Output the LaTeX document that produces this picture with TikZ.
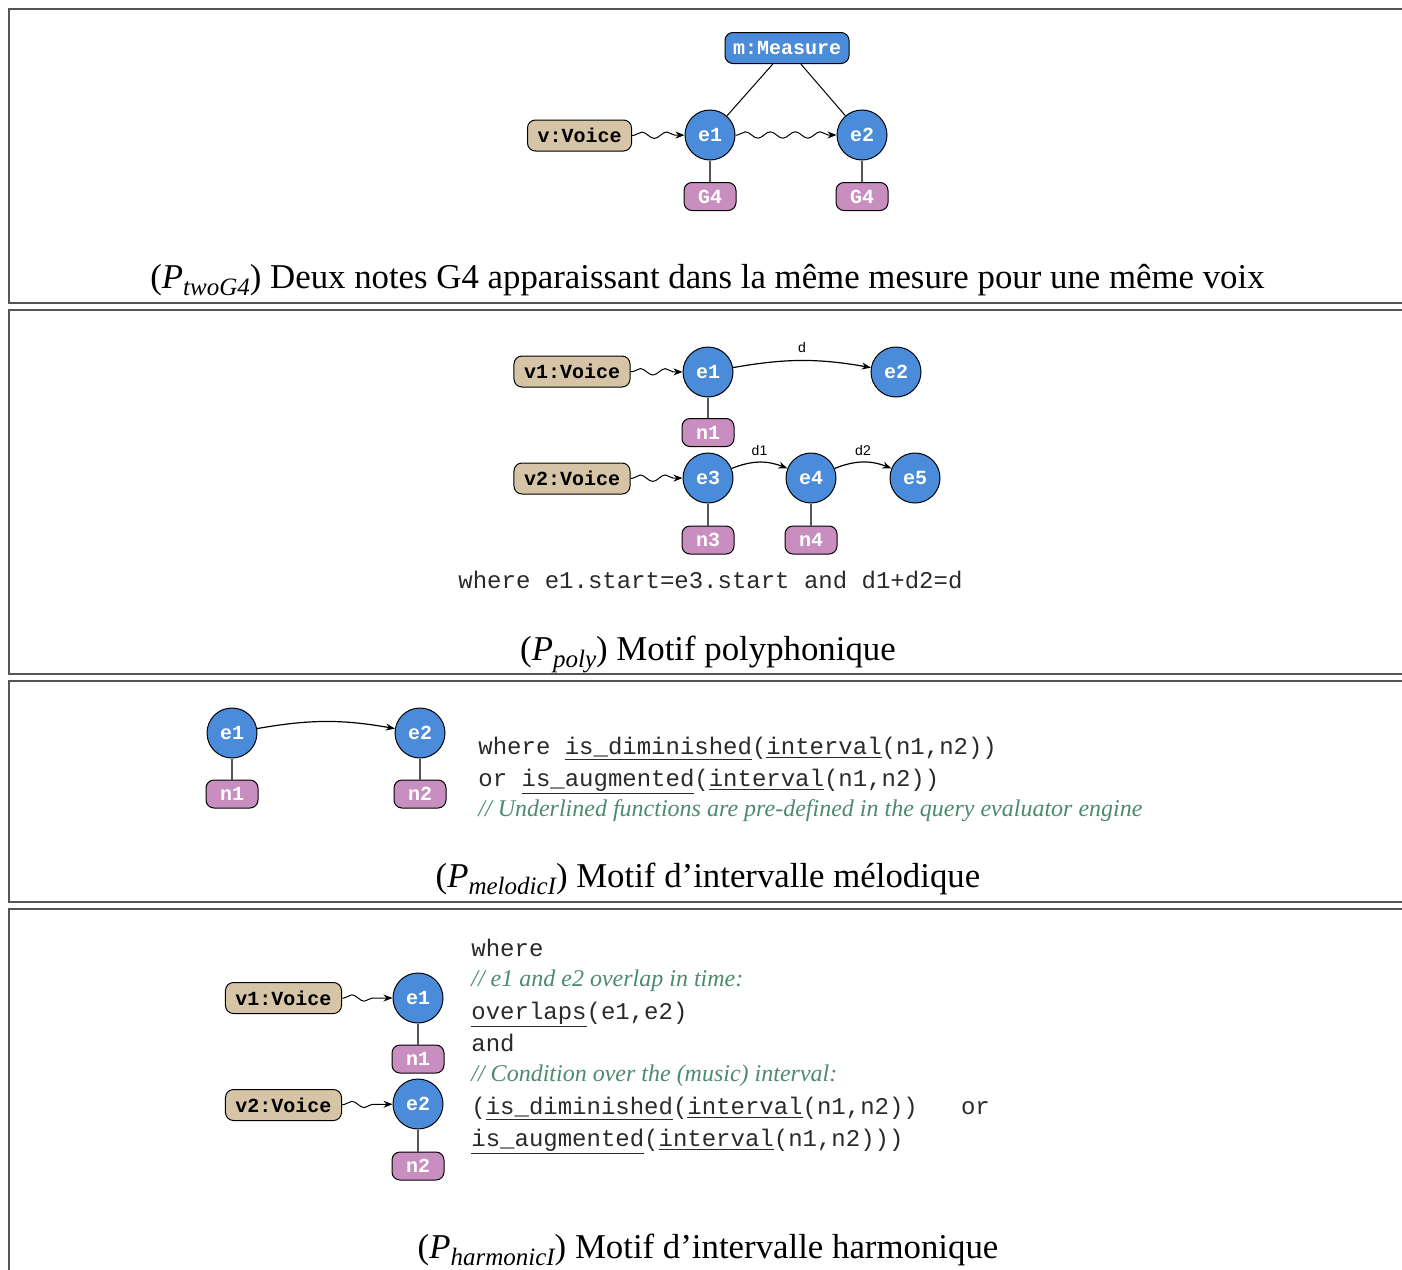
\documentclass[tikz,border=0pt]{standalone}
\usepackage{fontspec}
\setmainfont{Liberation Serif}
\newfontfamily\monofont{Liberation Mono}
\newfontfamily\labfont{Liberation Sans}
\usetikzlibrary{arrows.meta,decorations.pathmorphing}

\definecolor{evblue}{HTML}{4A8BDA}
\definecolor{voicetan}{HTML}{D6C4A6}
\definecolor{notepink}{HTML}{C98EC0}
\definecolor{commentgreen}{HTML}{4C8A70}
\definecolor{framegray}{HTML}{555555}
\definecolor{codegray}{HTML}{2A2A2A}

% pattern name in captions: (P_{sub})
\newcommand\Pname[1]{(\textit{P}\raisebox{-0.45ex}{\fontsize{12.5pt}{14pt}\selectfont\itshape #1})}
\newcommand\ul[1]{\underline{#1}}

\tikzset{
  nodefont/.style={font=\monofont\bfseries\fontsize{10pt}{12pt}\selectfont},
  ev/.style={circle, draw=black, line width=0.5pt, fill=evblue, minimum size=25pt,
    inner sep=0pt, text=white, nodefont},
  voice/.style={rounded corners=4pt, draw=black, line width=0.5pt, fill=voicetan,
    minimum height=15.5pt, inner xsep=5pt, inner ysep=2pt, text=black, nodefont},
  measure/.style={rounded corners=4pt, draw=black, line width=0.5pt, fill=evblue,
    minimum height=15.5pt, inner xsep=4pt, inner ysep=2pt, text=white, nodefont},
  notebox/.style={rounded corners=4pt, draw=black, line width=0.5pt, fill=notepink,
    minimum height=14pt, minimum width=26pt, inner sep=2pt, text=white, nodefont},
  wavy/.style={decorate, decoration={snake, amplitude=1.6pt, segment length=12.5pt,
    pre length=1pt, post length=4pt}, line width=0.5pt, -{Stealth[length=4.5pt,width=3.5pt]}},
  stem/.style={draw=framegray, line width=0.8pt},
  rel/.style={draw=black, line width=0.5pt},
  flow/.style={line width=0.6pt, -{Stealth[length=4.5pt,width=3.5pt]}},
  lab/.style={font=\labfont\fontsize{7pt}{8pt}\selectfont, inner sep=0pt},
  code/.style={anchor=base west, inner sep=0pt, text=codegray,
    font=\monofont\fontsize{12pt}{14pt}\selectfont},
  comment/.style={anchor=base west, inner sep=0pt, text=commentgreen,
    font=\itshape\fontsize{12pt}{14pt}\selectfont},
  caption/.style={anchor=base, inner sep=0pt, font=\fontsize{17.4pt}{20pt}\selectfont},
  frame/.style={draw=framegray, line width=1pt}
}

\begin{document}
\begin{tikzpicture}[x=0.5pt,y=-0.5pt]
\useasboundingbox (0,0) rectangle (1402,1269);
\begin{scope}
\clip (0,0) rectangle (1402,1269);
% panel frames (open to the right and at the bottom)
\draw[frame] (9,9) rectangle (1430,303);
\draw[frame] (9,310) rectangle (1430,674);
\draw[frame] (9,681) rectangle (1430,902);
\draw[frame] (9,909) rectangle (1430,1300);
\end{scope}

% ---------- two G4 notes in one measure ----------
\node[measure] (m) at (787,48) {m:Measure};
\node[voice] (v) at (579.5,135.5) {v:Voice};
\node[ev] (a1) at (710,135) {e1};
\node[ev] (a2) at (862,135) {e2};
\node[notebox] (g1) at (710,196.5) {G4};
\node[notebox] (g2) at (862,196.5) {G4};
\draw[rel] (m) -- (a1);
\draw[rel] (m) -- (a2);
\draw[wavy] (v) -- (a1);
\draw[wavy] (a1) -- (a2);
\draw[stem] (a1) -- (g1);
\draw[stem] (a2) -- (g2);
\node[caption] (c1) at (707.5,288) {\Pname{twoG4} Deux notes G4 apparaissant dans la même mesure pour une même voix};

% ---------- polyphonic pattern ----------
\node[voice] (pv1) at (572,371.5) {v1:Voice};
\node[ev] (p1) at (708,372) {e1};
\node[ev] (p2) at (896,372) {e2};
\node[notebox] (pn1) at (708,432.5) {n1};
\node[voice] (pv2) at (572,478.5) {v2:Voice};
\node[ev] (p3) at (708,478) {e3};
\node[ev] (p4) at (811,478) {e4};
\node[ev] (p5) at (915,478) {e5};
\node[notebox] (pn3) at (708,540) {n3};
\node[notebox] (pn4) at (811,540) {n4};
\draw[wavy] (pv1) -- (p1);
\draw[wavy] (pv2) -- (p3);
\draw[stem] (p1) -- (pn1);
\draw[stem] (p3) -- (pn3);
\draw[stem] (p4) -- (pn4);
\draw[flow] (p1) to[bend left=10] node[lab, midway, above=3.5pt] {d} (p2);
\draw[flow] (p3) to[bend left=22] node[lab, midway, above=3pt] {d1} (p4);
\draw[flow] (p4) to[bend left=22] node[lab, midway, above=3pt] {d2} (p5);
\node[code] (w2) at (458,588) {where e1.start=e3.start and d1+d2=d};
\node[caption] (c2) at (708,660) {\Pname{poly} Motif polyphonique};

% ---------- melodic interval pattern ----------
\node[ev] (m1) at (232,733) {e1};
\node[ev] (m2) at (420,733) {e2};
\node[notebox] (mn1) at (232,794) {n1};
\node[notebox] (mn2) at (420,794) {n2};
\draw[stem] (m1) -- (mn1);
\draw[stem] (m2) -- (mn2);
\draw[flow] (m1) to[bend left=10] (m2);
\node[code] (w3a) at (478,754) {where \ul{is\_diminished}(\ul{interval}(n1,n2))};
\node[code] (w3b) at (478,786) {or \ul{is\_augmented}(\ul{interval}(n1,n2))};
\node[comment] (w3c) at (478,816) {// Underlined functions are pre-defined in the query evaluator engine};
\node[caption] (c3) at (708,887) {\Pname{melodicI} Motif d’intervalle mélodique};

% ---------- harmonic interval pattern ----------
\node[voice] (hv1) at (283.5,998) {v1:Voice};
\node[ev] (h1) at (418,998) {e1};
\node[notebox] (hn1) at (418,1059) {n1};
\node[voice] (hv2) at (283.5,1105) {v2:Voice};
\node[ev] (h2) at (418,1104) {e2};
\node[notebox] (hn2) at (418,1166) {n2};
\draw[wavy] (hv1) -- (h1);
\draw[wavy] (hv2) -- (h2);
\draw[stem] (h1) -- (hn1);
\draw[stem] (h2) -- (hn2);
\node[code] (w4a) at (471,956) {where};
\node[comment] (w4b) at (471,986) {// e1 and e2 overlap in time:};
\node[code] (w4c) at (471,1019) {\ul{overlaps}(e1,e2)};
\node[code] (w4d) at (471,1051) {and};
\node[comment] (w4e) at (471,1081) {// Condition over the (music) interval:};
\node[code] (w4f) at (471,1114) {(\ul{is\_diminished}(\ul{interval}(n1,n2))\ \ \ or};
\node[code] (w4g) at (471,1146) {\ul{is\_augmented}(\ul{interval}(n1,n2)))};
\node[caption] (c4) at (708,1258) {\Pname{harmonicI} Motif d’intervalle harmonique};
\end{tikzpicture}
\end{document}
